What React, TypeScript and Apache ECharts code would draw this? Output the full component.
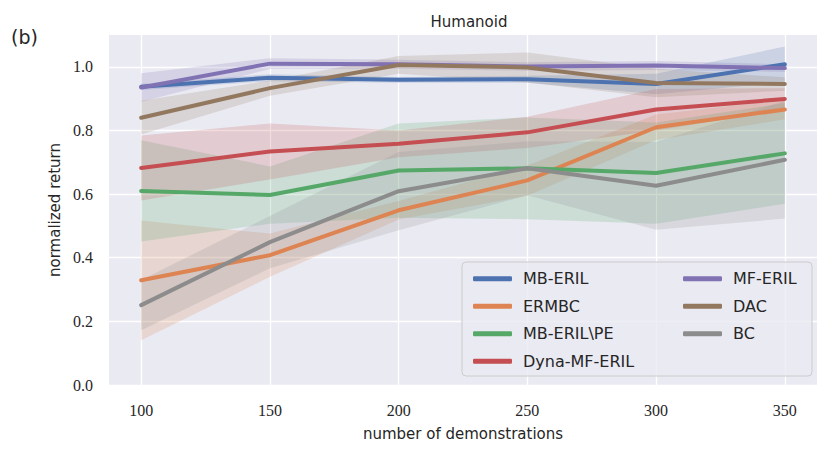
import React, { useEffect, useRef } from "react";
import * as echarts from "echarts";

const xValues = [100, 150, 200, 250, 300, 350];
const yTicks = [0, 0.2, 0.4, 0.6, 0.8, 1.0];

const seriesNames = ["MB-ERIL", "ERMBC", "MB-ERIL\\PE", "Dyna-MF-ERIL", "MF-ERIL", "DAC", "BC"];
const seriesColors = ["#4c72b0", "#dd8452", "#55a868", "#c44e52", "#8172b3", "#937860", "#8c8c8c"];

const mbErilMean = [0.937, 0.966, 0.959, 0.961, 0.946, 1.008];
const mbErilLo = [0.927, 0.955, 0.95, 0.95, 0.914, 0.952];
const mbErilHi = [0.947, 0.977, 0.968, 0.972, 0.978, 1.064];

const ermbcMean = [0.329, 0.408, 0.549, 0.643, 0.81, 0.866];
const ermbcLo = [0.141, 0.34, 0.52, 0.595, 0.77, 0.835];
const ermbcHi = [0.517, 0.476, 0.578, 0.69, 0.85, 0.897];

const mbErilPeMean = [0.61, 0.597, 0.674, 0.681, 0.666, 0.728];
const mbErilPeLo = [0.451, 0.507, 0.526, 0.521, 0.507, 0.57];
const mbErilPeHi = [0.769, 0.687, 0.822, 0.841, 0.825, 0.886];

const dynaMean = [0.682, 0.734, 0.758, 0.794, 0.866, 0.899];
const dynaLo = [0.58, 0.646, 0.716, 0.745, 0.8, 0.865];
const dynaHi = [0.784, 0.822, 0.8, 0.843, 0.93, 0.933];

const mfErilMean = [0.935, 1.01, 1.008, 1.001, 1.004, 0.996];
const mfErilLo = [0.89, 0.993, 0.994, 0.988, 0.99, 0.984];
const mfErilHi = [0.98, 1.027, 1.022, 1.014, 1.018, 1.008];

const dacMean = [0.84, 0.933, 1.006, 0.998, 0.949, 0.946];
const dacLo = [0.787, 0.909, 0.978, 0.951, 0.904, 0.925];
const dacHi = [0.893, 0.957, 1.034, 1.045, 0.994, 0.967];

const bcMean = [0.251, 0.449, 0.609, 0.681, 0.626, 0.708];
const bcLo = [0.172, 0.367, 0.486, 0.596, 0.488, 0.523];
const bcHi = [0.33, 0.531, 0.732, 0.766, 0.764, 0.893];

const means = [mbErilMean, ermbcMean, mbErilPeMean, dynaMean, mfErilMean, dacMean, bcMean];
const los = [mbErilLo, ermbcLo, mbErilPeLo, dynaLo, mfErilLo, dacLo, bcLo];
const his = [mbErilHi, ermbcHi, mbErilPeHi, dynaHi, mfErilHi, dacHi, bcHi];

const legendCol1 = ["MB-ERIL", "ERMBC", "MB-ERIL\\PE", "Dyna-MF-ERIL"];
const legendCol2 = ["MF-ERIL", "DAC", "BC"];

export default function App() {
  const ref = useRef<HTMLDivElement>(null);
  useEffect(() => {
    if (!ref.current) return;
    const chart = echarts.init(ref.current, undefined, { renderer: "svg" });
    const series: any[] = [];
    seriesNames.forEach((name, i) => {
      const bandData = xValues.map((x, j) => [x, los[i][j], his[i][j]]);
      series.push({
        name: name + "_band",
        type: "custom",
        data: bandData,
        encode: { x: 0, y: [1, 2] },
        silent: true,
        z: 1,
        renderItem: (params: any, api: any) => {
          if (params.dataIndexInside !== 0) return null;
          const n = bandData.length;
          const upper: number[][] = [];
          const lower: number[][] = [];
          for (let k = 0; k < n; k++) {
            const xv = api.value(0, k);
            upper.push(api.coord([xv, api.value(2, k)]));
            lower.push(api.coord([xv, api.value(1, k)]));
          }
          const points = upper.concat(lower.reverse());
          return {
            type: "polygon",
            shape: { points },
            style: { fill: seriesColors[i], opacity: 0.2 },
          };
        },
      });
    });
    seriesNames.forEach((name, i) => {
      series.push({
        name,
        type: "line",
        data: xValues.map((x, j) => [x, means[i][j]]),
        symbol: "none",
        color: seriesColors[i],
        lineStyle: { width: 4, color: seriesColors[i], cap: "round", join: "round" },
        z: 3,
      });
    });
    const legendCommon = {
      orient: "vertical",
      itemWidth: 39,
      itemHeight: 5,
      itemGap: 8,
      icon: "roundRect",
      selectedMode: false,
      z: 20,
      textStyle: {
        fontFamily: "DejaVu Sans",
        fontSize: 16,
        color: "#262626",
        lineHeight: 19.5,
        padding: [0, 0, 0, 6],
      },
    };
    chart.setOption({
      animation: false,
      title: {
        text: "Humanoid",
        left: 464,
        top: 9,
        textAlign: "center",
        textStyle: { fontFamily: "DejaVu Sans", fontSize: 15, fontWeight: "normal", color: "#262626" },
      },
      grid: {
        left: 109,
        right: 13,
        top: 35,
        bottom: 67,
        show: true,
        backgroundColor: "#eaeaf2",
        borderWidth: 0,
      },
      xAxis: {
        type: "value",
        min: 87.5,
        max: 362.5,
        name: "number of demonstrations",
        nameLocation: "middle",
        nameGap: 41,
        nameTextStyle: { fontFamily: "DejaVu Sans", fontSize: 15, color: "#262626" },
        axisLine: { show: false },
        axisTick: { show: false, customValues: xValues },
        axisLabel: {
          customValues: xValues,
          margin: 17,
          fontFamily: "Liberation Serif",
          fontSize: 16,
          color: "#262626",
        },
        splitLine: { show: true, lineStyle: { color: "#ffffff", width: 1.3 } },
      },
      yAxis: {
        type: "value",
        min: 0,
        max: 1.1,
        name: "normalized return",
        nameLocation: "middle",
        nameGap: 44,
        nameTextStyle: { fontFamily: "DejaVu Sans", fontSize: 15, color: "#262626" },
        axisLine: { show: false },
        axisTick: { show: false, customValues: yTicks },
        axisLabel: {
          customValues: yTicks,
          margin: 16,
          fontFamily: "Liberation Serif",
          fontSize: 16,
          color: "#262626",
          formatter: (v: number) => v.toFixed(1),
        },
        splitLine: { show: true, lineStyle: { color: "#ffffff", width: 1.3 } },
      },
      legend: [
        { ...legendCommon, data: legendCol1, left: 468, top: 264 },
        { ...legendCommon, data: legendCol2, left: 678, top: 264 },
      ],
      graphic: [
        {
          type: "rect",
          shape: { x: 462, y: 262, width: 350, height: 114, r: 4 },
          style: { fill: "rgba(234,234,242,0.8)", stroke: "#cccccc", lineWidth: 1 },
          z: 10,
          silent: true,
        },
        {
          type: "text",
          x: 11,
          y: 27,
          style: { text: "(b)", fontFamily: "DejaVu Sans", fontSize: 19, fill: "#262626" },
          silent: true,
        },
      ],
      series,
    });
    return () => chart.dispose();
  }, []);
  return (
    <div
      ref={ref}
      style={{ position: "fixed", left: 0, top: 0, width: 830, height: 452, background: "#ffffff" }}
    />
  );
}
